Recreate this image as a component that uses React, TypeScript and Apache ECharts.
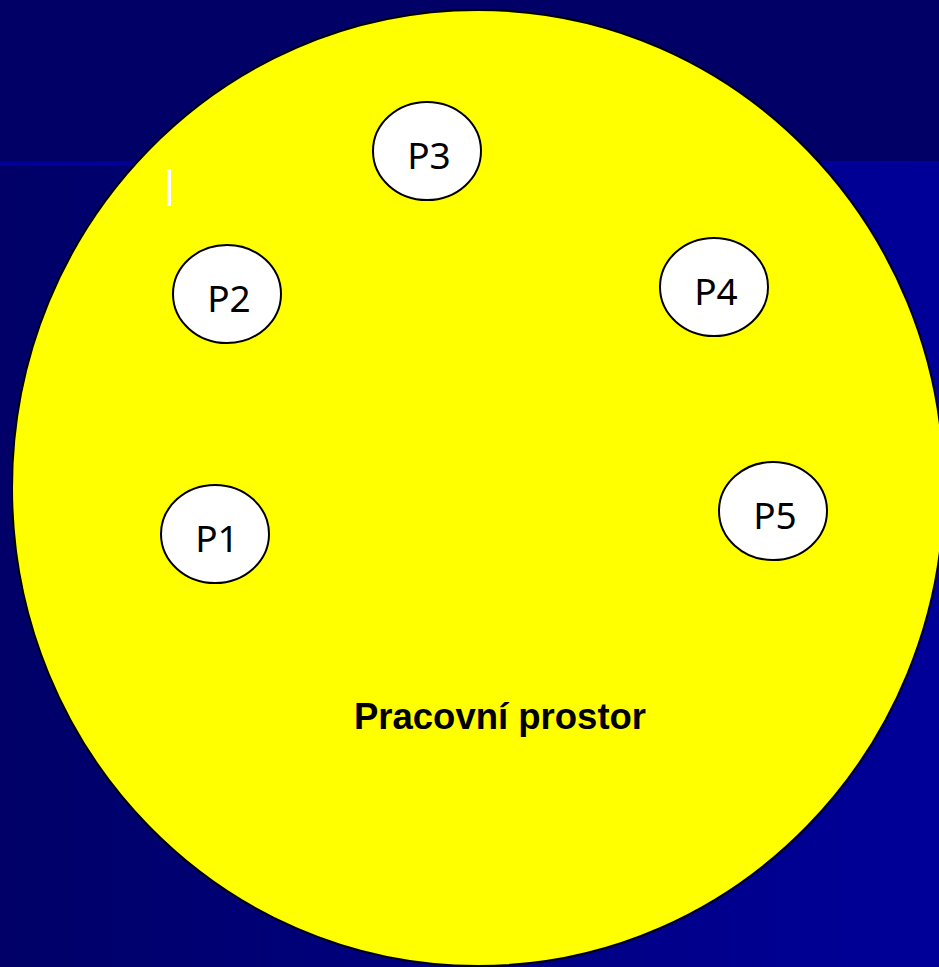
import React, { useEffect, useRef } from "react";
import * as echarts from "echarts";

// Nodes inside the workspace (diagram coordinates, y grows downward)
const nodeLabels = ["P1", "P2", "P3", "P4", "P5"];
const nodeX = [215, 227, 427, 714, 773];
const nodeY = [534, 294, 151, 287, 511];

// Workspace (large ellipse)
const spaceLabel = "Pracovní prostor";
const spaceCenter = [478, 488];
const spaceLabelPos = [500, 716];

const W = 939;
const H = 967;

export default function App() {
  const ref = useRef<HTMLDivElement>(null);
  useEffect(() => {
    if (!ref.current) return;
    const chart = echarts.init(ref.current, undefined, { renderer: "svg" });
    const nodeData = nodeLabels.map((l, i) => [nodeX[i], nodeY[i], l]);
    chart.setOption({
      animation: false,
      backgroundColor: "#000066",
      grid: { left: 0, right: 0, top: 0, bottom: 0 },
      xAxis: { type: "value", min: 0, max: W, show: false },
      yAxis: { type: "value", min: 0, max: H, inverse: true, show: false },
      graphic: [
        { type: "rect", z: -10, silent: true, shape: { x: 0, y: 0, width: W, height: 161 }, style: { fill: "#000066" } },
        {
          type: "rect", z: -10, silent: true,
          shape: { x: 0, y: 161, width: W, height: 5 },
          style: {
            fill: new echarts.graphic.LinearGradient(0, 0, 1, 0, [
              { offset: 0, color: "#000096" },
              { offset: 1, color: "#00009c" },
            ]),
          },
        },
        {
          type: "rect", z: -10, silent: true,
          shape: { x: 0, y: 166, width: W, height: H - 166 },
          style: {
            fill: new echarts.graphic.LinearGradient(0, 0, 1, 0, [
              { offset: 0, color: "#000068" },
              { offset: 1, color: "#000099" },
            ]),
          },
        },
      ],
      series: [
        {
          type: "custom",
          z: 2,
          silent: true,
          data: [[spaceCenter[0], spaceCenter[1], spaceLabelPos[0], spaceLabelPos[1], spaceLabel]],
          renderItem: (params: any, api: any) => {
            const c = api.coord([api.value(0), api.value(1)]);
            const t = api.coord([api.value(2), api.value(3)]);
            return {
              type: "group",
              children: [
                {
                  type: "ellipse",
                  shape: { cx: c[0], cy: c[1], rx: 466, ry: 478 },
                  style: { fill: "#ffff00", stroke: "#000000", lineWidth: 2 },
                },
                {
                  type: "text",
                  x: t[0],
                  y: t[1],
                  style: {
                    text: api.value(4),
                    fontFamily: "'Liberation Sans', Arial, sans-serif",
                    fontWeight: "bold",
                    fontSize: 36.5,
                    fill: "#000000",
                    align: "center",
                    verticalAlign: "middle",
                  },
                },
                {
                  type: "rect",
                  shape: { x: 167, y: 169, width: 4, height: 37 },
                  style: { fill: "#ffffff" },
                },
              ],
            };
          },
        },
        {
          type: "custom",
          z: 3,
          silent: true,
          data: nodeData,
          renderItem: (params: any, api: any) => {
            const c = api.coord([api.value(0), api.value(1)]);
            return {
              type: "group",
              children: [
                {
                  type: "ellipse",
                  shape: { cx: c[0], cy: c[1], rx: 54, ry: 49 },
                  style: { fill: "#ffffff", stroke: "#000000", lineWidth: 2 },
                },
                {
                  type: "text",
                  x: c[0] + 2,
                  y: c[1] + 3,
                  style: {
                    text: api.value(2),
                    fontFamily: "'Noto Sans', 'Open Sans', sans-serif",
                    fontSize: 37,
                    fill: "#000000",
                    align: "center",
                    verticalAlign: "middle",
                  },
                },
              ],
            };
          },
        },
      ],
    });
    return () => chart.dispose();
  }, []);
  return (
    <div
      ref={ref}
      style={{ position: "absolute", left: 0, top: 0, width: W, height: H }}
    />
  );
}
